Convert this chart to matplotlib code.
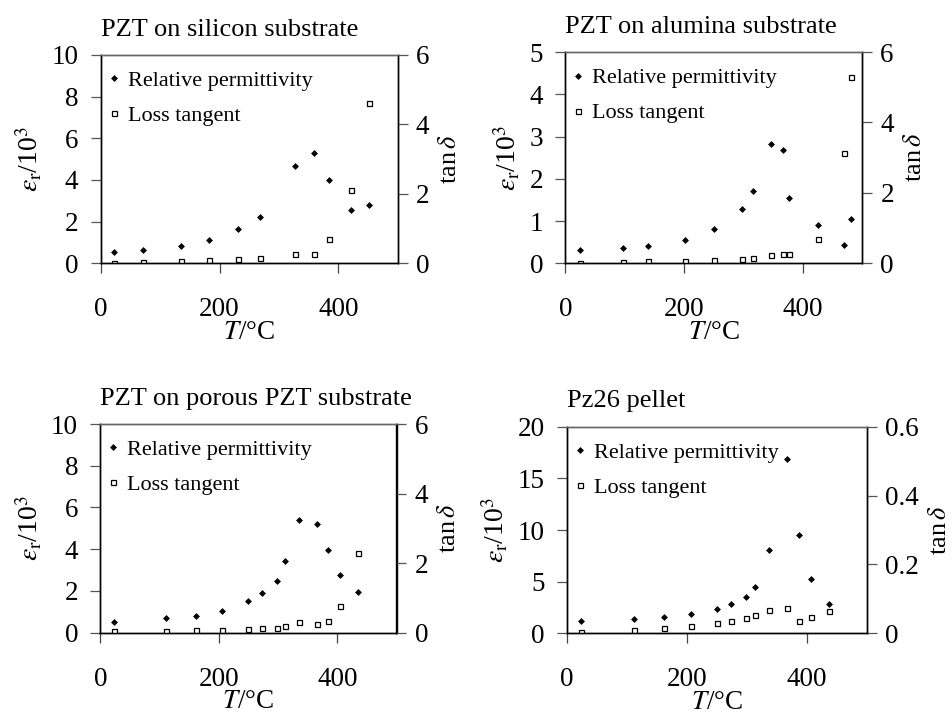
import matplotlib
matplotlib.use("Agg")
import matplotlib.pyplot as plt
from matplotlib.ticker import FuncFormatter

plt.rcParams['font.family'] = ['Liberation Serif', 'DejaVu Serif']
plt.rcParams['mathtext.fontset'] = 'stix'

# ---------------- data ----------------
titles = ["PZT on silicon substrate", "PZT on alumina substrate",
          "PZT on porous PZT substrate", "Pz26 pellet"]

T_si = [23, 72, 136, 183, 231, 269, 327, 359, 385, 421, 451]
eps_si = [0.53, 0.66, 0.85, 1.14, 1.66, 2.22, 4.67, 5.31, 3.98, 2.54, 2.78]
tan_si = [0.01, 0.04, 0.07, 0.09, 0.12, 0.14, 0.26, 0.28, 0.69, 2.10, 4.61]

T_al = [25, 97, 140, 201, 251, 297, 316, 346, 366, 376, 426, 470, 481]
eps_al = [0.31, 0.36, 0.40, 0.54, 0.80, 1.28, 1.70, 2.82, 2.67, 1.54, 0.90, 0.44, 1.06]
tan_al = [0.01, 0.04, 0.07, 0.07, 0.09, 0.11, 0.14, 0.23, 0.26, 0.26, 0.68, 3.14, 5.30]

T_po = [23, 111, 161, 205, 250, 273, 298, 312, 335, 366, 385, 404, 435]
eps_po = [0.50, 0.69, 0.81, 1.05, 1.50, 1.90, 2.49, 3.43, 5.38, 5.21, 3.96, 2.78, 1.93]
tan_po = [0.06, 0.06, 0.09, 0.09, 0.10, 0.13, 0.14, 0.18, 0.30, 0.25, 0.35, 0.77, 2.28]

T_pz = [23, 112, 162, 207, 251, 273, 298, 313, 337, 367, 386, 407, 436]
eps_pz = [1.19, 1.42, 1.58, 1.90, 2.32, 2.81, 3.55, 4.52, 8.10, 16.9, 9.48, 5.23, 2.87]
tan_pz = [0.005, 0.010, 0.015, 0.022, 0.031, 0.037, 0.045, 0.053, 0.068, 0.073, 0.037, 0.048, 0.066]

left_max = [10, 5, 10, 20]
left_step = [2, 1, 2, 5]
right_max = [6, 6, 6, 0.6]
right_step = [2, 2, 2, 0.2]
x_ticks = [0, 200, 400]

panels = [(T_si, eps_si, tan_si), (T_al, eps_al, tan_al),
          (T_po, eps_po, tan_po), (T_pz, eps_pz, tan_pz)]

# axes positions in pixels (left, top, right, bottom)
W, H = 952, 714
boxes_px = [(100.7, 55, 397.7, 263.3), (565.3, 52, 862.3, 263.3),
            (100.3, 424, 396.5, 632.7), (566.7, 426.7, 867, 633.3)]

fig = plt.figure(figsize=(9.52, 7.14), dpi=100)

TICK_FS = 19.5
LAB_FS = 19.5
TITLE_FS = 19
LEG_FS = 16

fmt = FuncFormatter(lambda v, p: f"{v:g}")

for i, (T, eps, tan) in enumerate(panels):
    l, t, r, b = boxes_px[i]
    ax = fig.add_axes([l / W, 1 - b / H, (r - l) / W, (b - t) / H])
    ax2 = ax.twinx()

    h1, = ax.plot(T, eps, linestyle='none', marker='D', ms=3.0,
                  mfc='black', mec='black', mew=0.5, label='Relative permittivity')
    h2, = ax2.plot(T, tan, linestyle='none', marker='s', ms=3.6,
                   mfc='white', mec='black', mew=0.9, label='Loss tangent')

    ax.set_xlim(0, 500)
    ax.set_ylim(0, left_max[i])
    ax2.set_ylim(0, right_max[i])
    n_l = int(round(left_max[i] / left_step[i]))
    ax.set_yticks([k * left_step[i] for k in range(n_l + 1)])
    n_r = int(round(right_max[i] / right_step[i]))
    ax2.set_yticks([k * right_step[i] for k in range(n_r + 1)])
    ax.set_xticks(x_ticks)
    ax.yaxis.set_major_formatter(fmt)
    ax2.yaxis.set_major_formatter(fmt)

    ax.tick_params(axis='x', direction='out', length=7, width=0.9,
                   color='#444444', labelsize=TICK_FS, pad=17.5)
    ax.tick_params(axis='y', direction='out', length=7, width=0.9,
                   color='#555555', labelsize=TICK_FS, pad=9)
    ax2.tick_params(axis='y', direction='out', length=7, width=0.9,
                    color='#555555', labelsize=TICK_FS, pad=6)

    for a in (ax, ax2):
        for s in a.spines.values():
            s.set_linewidth(1.0)
        a.spines['top'].set_color('#666666')

    ax.set_xlabel(r'$T$/°C', fontsize=LAB_FS, labelpad=-2)
    ax.set_ylabel(r'$\varepsilon_{\mathrm{r}}$/10$^3$', fontsize=20, labelpad=5)
    ax2.set_ylabel(r'tan$\,\delta$', fontsize=19, labelpad=7)

    ax.set_title(titles[i], loc='left', fontsize=TITLE_FS, pad=14)

    ax2.legend([h1, h2], ['Relative permittivity', 'Loss tangent'],
               loc='upper left', bbox_to_anchor=(0.02, 0.925), frameon=False,
               fontsize=LEG_FS, handlelength=0.65, handletextpad=0.3,
               borderpad=0, borderaxespad=0, labelspacing=0.65, numpoints=1)

fig.savefig('out.png', dpi=100)
